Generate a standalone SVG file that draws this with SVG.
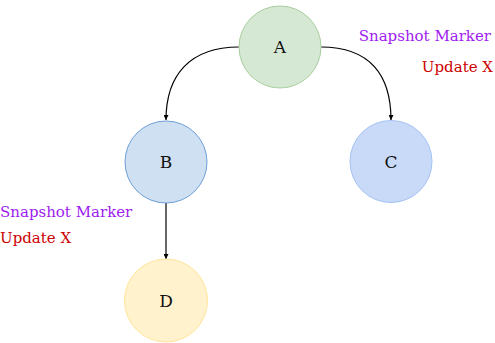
<svg xmlns="http://www.w3.org/2000/svg" width="495" height="343" viewBox="0 0 495 343">
<style>
.lbl{font-family:"DejaVu Serif",serif;font-size:17px;fill:#111;text-anchor:middle;dominant-baseline:central}
.ann{font-family:"DejaVu Serif",serif;font-size:15px}
.snap{fill:#a020f0}
.upd{fill:#cc0000}
.edge{fill:none;stroke:#000;stroke-width:1.2}
</style>
<defs>
<marker id="arr" viewBox="0 0 10 10" refX="10" refY="5" markerWidth="7" markerHeight="5" orient="auto" markerUnits="userSpaceOnUse">
<path d="M0,0 L10,5 L0,10 z" fill="#000"/>
</marker>
</defs>
<g id="connectors">
<path class="edge" d="M239,47 C190,47 166,75 166,120" marker-end="url(#arr)"/>
<path class="edge" d="M321,47 C370,47 391,75 391,120" marker-end="url(#arr)"/>
<path class="edge" d="M166,203 L166,259" marker-end="url(#arr)"/>
</g>
<g id="A"><circle cx="280" cy="47" r="41" fill="#d5e8d4" stroke="#a9cf9f"/><text class="lbl" x="280" y="47">A</text></g>
<g id="B"><circle cx="166" cy="162" r="41" fill="#cfe0f2" stroke="#6d9fd8"/><text class="lbl" x="166" y="162">B</text></g>
<g id="C"><circle cx="391" cy="161.5" r="41" fill="#c9daf8" stroke="#a4c2f4"/><text class="lbl" x="391" y="161.5">C</text></g>
<g id="D"><circle cx="166" cy="300.5" r="41.5" fill="#fff2cc" stroke="#ffe599"/><text class="lbl" x="166" y="300.5">D</text></g>
<g id="annotations">
<text class="ann snap" x="491" y="41" text-anchor="end">Snapshot Marker</text>
<text class="ann upd" x="493" y="72" text-anchor="end">Update X</text>
<text class="ann snap" x="0" y="217">Snapshot Marker</text>
<text class="ann upd" x="0" y="243">Update X</text>
</g>
</svg>
